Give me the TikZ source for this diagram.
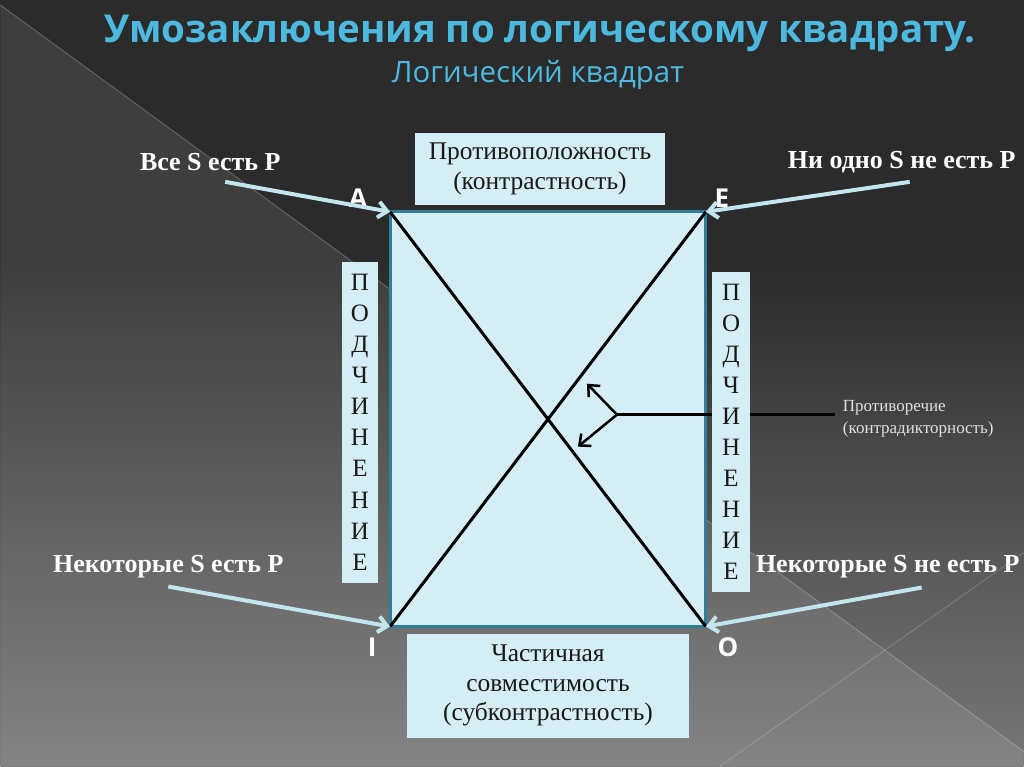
\documentclass[tikz,border=0pt]{standalone}
\usepackage{fontspec}
\setmainfont{Liberation Serif}
\newfontfamily\headfont{Open Sans}
\definecolor{slidedark}{HTML}{2B2B2B}
\definecolor{slidelight}{HTML}{787878}
\definecolor{titleblue}{HTML}{4DB9DF}
\definecolor{boxfill}{HTML}{D5EDF4}
\definecolor{squareedge}{HTML}{2E7F97}
\definecolor{pointercol}{HTML}{C2E5EE}
\usetikzlibrary{arrows.meta, positioning}

\begin{document}
\begin{tikzpicture}[x=1pt, y=-1pt,
    claim/.style={text=white, font=\bfseries\fontsize{26}{28}\selectfont, inner sep=2pt},
    corner/.style={text=white, font=\headfont\bfseries\fontsize{26}{26}\selectfont, inner sep=0pt},
    infobox/.style={fill=boxfill, align=center, inner sep=0pt, text=black!90, font=\fontsize{25.5}{29.5}\selectfont},
    letterbox/.style={fill=boxfill, align=center, inner sep=0pt, minimum width=36pt, text=black!90, font=\fontsize{25}{31.1}\selectfont},
    pointer/.style={-{Straight Barb[length=9pt, width=16pt]}, line width=4pt, color=pointercol},
    diag/.style={line width=3pt, black},
    contra/.style={-{Straight Barb[length=9pt, width=16pt]}, line width=2.5pt, black},
]
    % background
    \fill[slidedark] (0,0) rectangle (1024,767);
    \fill[top color=slidedark, bottom color=slidelight] (0,260) rectangle (1024,767);
    \fill[white, opacity=0.09] (0,5) -- (1024,752) -- (1024,767) -- (0,767) -- cycle;
    \draw[white, opacity=0.25, line width=0.8pt] (0,5) -- (1024,752);
    \draw[white, opacity=0.2, line width=0.8pt] (720,767) -- (1024,553);

    % title
    \node[text=titleblue, font=\headfont\bfseries\fontsize{38.5}{40}\selectfont] (title) at (540,33) {Умозаключения по логическому квадрату.};
    \node[text=titleblue, font=\headfont\fontsize{29.5}{30}\selectfont] (subtitle) at (538,75) {Логический квадрат};

    % square
    \node[draw=squareedge, line width=3pt, fill=boxfill, minimum width=316pt, minimum height=415pt, inner sep=0pt, outer sep=0pt] (sq) at (548,419.5) {};
    \draw[diag] (sq.north west) -- (sq.south east);
    \draw[diag] (sq.north east) -- (sq.south west);

    \node[infobox, minimum width=250pt, minimum height=72pt, above=7pt of sq, xshift=-8pt] (contrary) {Противоположность\\(контрастность)};
    \node[infobox, minimum width=283pt, minimum height=104pt, below=7pt of sq] (subcontrary) {Частичная\\совместимость\\(субконтрастность)};

    % contradiction
    \coordinate (fork) at (617,415);
    \coordinate (upper) at (587,384);
    \coordinate (lower) at (578,447);
    \node[text=black!12, align=left, anchor=west, inner sep=0pt, font=\fontsize{17}{22}\selectfont] (contradict) at (843,419) {Противоречие\\(контрадикторность)};
    \draw[line width=2.5pt] (fork) -- ([xshift=-8pt]fork -| contradict.west);
    \draw[contra] (fork) -- (upper);
    \draw[contra] (fork) -- (lower);

    % subalternation
    \node[letterbox, minimum height=321pt, left=12pt of sq, yshift=-3pt] (subleft) {П\\О\\Д\\Ч\\И\\Н\\Е\\Н\\И\\Е};
    \node[letterbox, minimum width=38pt, minimum height=320pt, right=6pt of sq, yshift=-12.5pt] (subright) {П\\О\\Д\\Ч\\И\\Н\\Е\\Н\\И\\Е};

    % corners
    \node[corner] (ca) at (358,198) {A};
    \node[corner] (ce) at (722,198) {E};
    \node[corner] (ci) at (372,648) {I};
    \node[corner] (co) at (728,648) {O};

    % statements
    \node[claim] (all) at (210,162) {Все S есть P};
    \node[claim] (none) at (902,162) {Ни одно S не есть P};
    \node[claim] (some) at (168,567) {Некоторые S есть P};
    \node[claim] (somenot) at (888,567) {Некоторые S не есть P};

    \coordinate (allfrom) at (225,182);
    \coordinate (nonefrom) at (910,182);
    \coordinate (somefrom) at (168,587);
    \coordinate (somenotfrom) at (922,588);
    \draw[pointer] (allfrom) -- (sq.north west);
    \draw[pointer] (nonefrom) -- (sq.north east);
    \draw[pointer] (somefrom) -- (sq.south west);
    \draw[pointer] (somenotfrom) -- (sq.south east);
\end{tikzpicture}
\end{document}
